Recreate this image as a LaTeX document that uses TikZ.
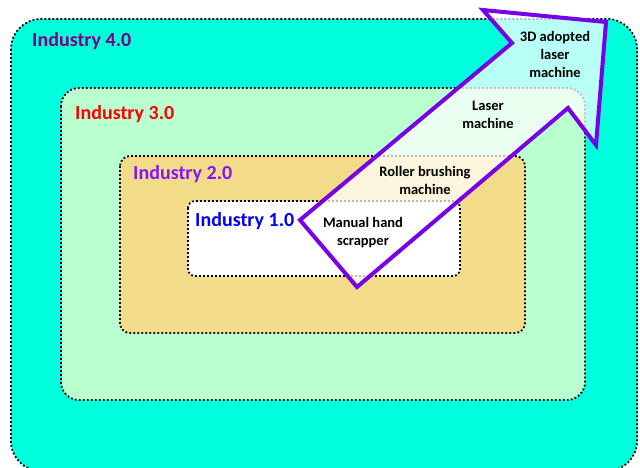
\documentclass[tikz,border=0pt]{standalone}
\usepackage{fontspec}
\setmainfont{Carlito}
\definecolor{eraFour}{RGB}{0,255,220}
\definecolor{eraThree}{RGB}{185,255,208}
\definecolor{eraTwo}{RGB}{242,220,138}
\definecolor{txtFour}{RGB}{128,0,128}
\definecolor{txtThree}{RGB}{255,0,0}
\definecolor{txtTwo}{RGB}{135,20,255}
\definecolor{txtOne}{RGB}{0,0,255}
\definecolor{arrowLine}{RGB}{120,0,230}
\begin{document}
\begin{tikzpicture}[x=1pt,y=-1pt,
  stagebox/.style={draw=black, line width=1.8pt, dash pattern=on 1.8pt off 2.2pt},
  era/.style={anchor=base west, inner sep=0pt, font=\fontsize{20}{24}\selectfont\bfseries},
  tool/.style={align=center, inner sep=0pt, font=\fontsize{14.5}{18}\selectfont\bfseries, text=black},
  progress/.style={draw=arrowLine, line width=4pt, line join=miter, fill=white, fill opacity=0.72}
]
\useasboundingbox[fill=white] (0,0) rectangle (640,467);
\begin{scope}
  \clip (0,0) rectangle (640,467);
  % nested stages, outermost first
  \path[stagebox, fill=eraFour, rounded corners=30pt] (11,19) rectangle (637,471);
  \path[stagebox, fill=eraThree, rounded corners=18pt] (61,88) rectangle (585,400);
  \path[stagebox, fill=eraTwo, rounded corners=10pt] (120,156) rectangle (525,333);
  \path[stagebox, fill=white, rounded corners=7pt] (188,201) rectangle (460,276);
\end{scope}

% stage titles
\node[era, text=txtFour]  (e4) at (32,46)  {Industry 4.0};
\node[era, text=txtThree] (e3) at (75,119) {Industry 3.0};
\node[era, text=txtTwo]   (e2) at (133,179) {Industry 2.0};
\node[era, text=txtOne]   (e1) at (195,226) {Industry 1.0};

% progression arrow
\path[progress] (300,220) -- (512,43) -- (483,10) -- (606,22) -- (596,145)
  -- (568,108) -- (357,287) -- cycle;

% technologies along the arrow
\node[tool] (t1) at (363,233) {Manual hand\\scrapper};
\node[tool] (t2) at (425,180) {Roller brushing\\machine};
\node[tool] (t3) at (488,115) {Laser\\machine};
\node[tool] (t4) at (555,54)  {3D adopted\\laser\\machine};
\end{tikzpicture}
\end{document}
